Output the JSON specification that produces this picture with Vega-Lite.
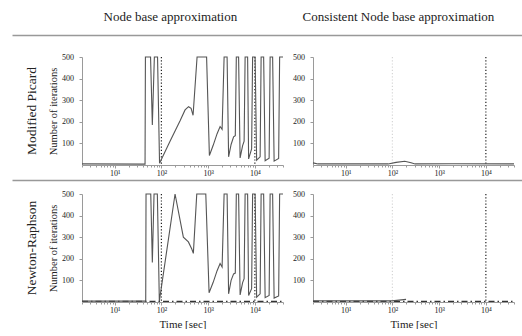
{
  "$schema": "https://vega.github.io/schema/vega-lite/v6.json",
  "padding": {"left": 12, "top": 10, "right": 0, "bottom": 0},
  "config": {
    "view": {"stroke": null},
    "font": "Liberation Serif",
    "axis": {
      "domainColor": "#9a9a9a",
      "tickColor": "#9a9a9a",
      "labelColor": "#222",
      "labelFont": "Liberation Serif",
      "labelFontSize": 8,
      "labelOverlap": false,
      "labelLimit": 0,
      "titleColor": "#222",
      "titleFont": "Liberation Serif",
      "titleFontWeight": "normal",
      "grid": false
    }
  },
  "datasets": {
    "schemes": [
      {"scheme": "Node base approximation"},
      {"scheme": "Consistent Node base approximation"}
    ],
    "methods": [
      {"method": "MP", "label": "Modified Picard"},
      {"method": "NR", "label": "Newton-Raphson"}
    ],
    "markers": [
      {"scheme": "NB", "t": 100, "level": "strong"},
      {"scheme": "NB", "t": 10000, "level": "strong"},
      {"scheme": "CNB", "t": 100, "level": "weak"},
      {"scheme": "CNB", "t": 10000, "level": "strong"}
    ],
    "curves": [
      {"method": "MP", "scheme": "NB", "run": "main", "t": 2, "n": 5},
      {"method": "MP", "scheme": "NB", "run": "main", "t": 44.7, "n": 4},
      {"method": "MP", "scheme": "NB", "run": "main", "t": 45.5, "n": 500},
      {"method": "MP", "scheme": "NB", "run": "main", "t": 58.6, "n": 500},
      {"method": "MP", "scheme": "NB", "run": "main", "t": 64, "n": 185},
      {"method": "MP", "scheme": "NB", "run": "main", "t": 70.7, "n": 500},
      {"method": "MP", "scheme": "NB", "run": "main", "t": 82.7, "n": 500},
      {"method": "MP", "scheme": "NB", "run": "main", "t": 91.3, "n": 8},
      {"method": "MP", "scheme": "NB", "run": "main", "t": 153, "n": 110},
      {"method": "MP", "scheme": "NB", "run": "main", "t": 251, "n": 205},
      {"method": "MP", "scheme": "NB", "run": "main", "t": 321, "n": 255},
      {"method": "MP", "scheme": "NB", "run": "main", "t": 381, "n": 270},
      {"method": "MP", "scheme": "NB", "run": "main", "t": 432, "n": 262},
      {"method": "MP", "scheme": "NB", "run": "main", "t": 476, "n": 230},
      {"method": "MP", "scheme": "NB", "run": "main", "t": 580, "n": 500},
      {"method": "MP", "scheme": "NB", "run": "main", "t": 927, "n": 500},
      {"method": "MP", "scheme": "NB", "run": "main", "t": 1064, "n": 44},
      {"method": "MP", "scheme": "NB", "run": "main", "t": 1277, "n": 90},
      {"method": "MP", "scheme": "NB", "run": "main", "t": 1556, "n": 145},
      {"method": "MP", "scheme": "NB", "run": "main", "t": 1803, "n": 178},
      {"method": "MP", "scheme": "NB", "run": "main", "t": 1990, "n": 165},
      {"method": "MP", "scheme": "NB", "run": "main", "t": 2197, "n": 500},
      {"method": "MP", "scheme": "NB", "run": "main", "t": 2546, "n": 500},
      {"method": "MP", "scheme": "NB", "run": "main", "t": 2742, "n": 38},
      {"method": "MP", "scheme": "NB", "run": "main", "t": 3102, "n": 95},
      {"method": "MP", "scheme": "NB", "run": "main", "t": 3508, "n": 130},
      {"method": "MP", "scheme": "NB", "run": "main", "t": 3814, "n": 136},
      {"method": "MP", "scheme": "NB", "run": "main", "t": 4009, "n": 500},
      {"method": "MP", "scheme": "NB", "run": "main", "t": 4487, "n": 500},
      {"method": "MP", "scheme": "NB", "run": "main", "t": 4833, "n": 33},
      {"method": "MP", "scheme": "NB", "run": "main", "t": 5470, "n": 90},
      {"method": "MP", "scheme": "NB", "run": "main", "t": 5890, "n": 110},
      {"method": "MP", "scheme": "NB", "run": "main", "t": 6186, "n": 500},
      {"method": "MP", "scheme": "NB", "run": "main", "t": 6998, "n": 500},
      {"method": "MP", "scheme": "NB", "run": "main", "t": 7349, "n": 28},
      {"method": "MP", "scheme": "NB", "run": "main", "t": 8524, "n": 75},
      {"method": "MP", "scheme": "NB", "run": "main", "t": 8947, "n": 500},
      {"method": "MP", "scheme": "NB", "run": "main", "t": 10125, "n": 500},
      {"method": "MP", "scheme": "NB", "run": "main", "t": 10910, "n": 22},
      {"method": "MP", "scheme": "NB", "run": "main", "t": 12960, "n": 38},
      {"method": "MP", "scheme": "NB", "run": "main", "t": 13610, "n": 500},
      {"method": "MP", "scheme": "NB", "run": "main", "t": 15410, "n": 500},
      {"method": "MP", "scheme": "NB", "run": "main", "t": 16590, "n": 20},
      {"method": "MP", "scheme": "NB", "run": "main", "t": 20190, "n": 32},
      {"method": "MP", "scheme": "NB", "run": "main", "t": 21220, "n": 500},
      {"method": "MP", "scheme": "NB", "run": "main", "t": 23990, "n": 500},
      {"method": "MP", "scheme": "NB", "run": "main", "t": 25830, "n": 18},
      {"method": "MP", "scheme": "NB", "run": "main", "t": 32270, "n": 30},
      {"method": "MP", "scheme": "NB", "run": "main", "t": 33880, "n": 500},
      {"method": "MP", "scheme": "NB", "run": "main", "t": 40000, "n": 500},

      {"method": "MP", "scheme": "CNB", "run": "main", "t": 2, "n": 10},
      {"method": "MP", "scheme": "CNB", "run": "main", "t": 2.56, "n": 5},
      {"method": "MP", "scheme": "CNB", "run": "main", "t": 81, "n": 5},
      {"method": "MP", "scheme": "CNB", "run": "main", "t": 120, "n": 12},
      {"method": "MP", "scheme": "CNB", "run": "main", "t": 184, "n": 17},
      {"method": "MP", "scheme": "CNB", "run": "main", "t": 251, "n": 10},
      {"method": "MP", "scheme": "CNB", "run": "main", "t": 306, "n": 5},
      {"method": "MP", "scheme": "CNB", "run": "main", "t": 1990, "n": 6},
      {"method": "MP", "scheme": "CNB", "run": "main", "t": 40000, "n": 5},

      {"method": "NR", "scheme": "NB", "run": "main", "t": 2, "n": 4},
      {"method": "NR", "scheme": "NB", "run": "main", "t": 46.2, "n": 4},
      {"method": "NR", "scheme": "NB", "run": "main", "t": 46.9, "n": 500},
      {"method": "NR", "scheme": "NB", "run": "main", "t": 59.2, "n": 500},
      {"method": "NR", "scheme": "NB", "run": "main", "t": 64, "n": 183},
      {"method": "NR", "scheme": "NB", "run": "main", "t": 69.6, "n": 500},
      {"method": "NR", "scheme": "NB", "run": "main", "t": 81.9, "n": 500},
      {"method": "NR", "scheme": "NB", "run": "main", "t": 90.4, "n": 4},
      {"method": "NR", "scheme": "NB", "run": "main", "t": 196, "n": 500},
      {"method": "NR", "scheme": "NB", "run": "main", "t": 295, "n": 300},
      {"method": "NR", "scheme": "NB", "run": "main", "t": 378, "n": 278},
      {"method": "NR", "scheme": "NB", "run": "main", "t": 447, "n": 245},
      {"method": "NR", "scheme": "NB", "run": "main", "t": 483, "n": 225},
      {"method": "NR", "scheme": "NB", "run": "main", "t": 571, "n": 500},
      {"method": "NR", "scheme": "NB", "run": "main", "t": 891, "n": 500},
      {"method": "NR", "scheme": "NB", "run": "main", "t": 1048, "n": 43},
      {"method": "NR", "scheme": "NB", "run": "main", "t": 1277, "n": 90},
      {"method": "NR", "scheme": "NB", "run": "main", "t": 1556, "n": 145},
      {"method": "NR", "scheme": "NB", "run": "main", "t": 1803, "n": 178},
      {"method": "NR", "scheme": "NB", "run": "main", "t": 1990, "n": 162},
      {"method": "NR", "scheme": "NB", "run": "main", "t": 2197, "n": 500},
      {"method": "NR", "scheme": "NB", "run": "main", "t": 2546, "n": 500},
      {"method": "NR", "scheme": "NB", "run": "main", "t": 2742, "n": 38},
      {"method": "NR", "scheme": "NB", "run": "main", "t": 3102, "n": 100},
      {"method": "NR", "scheme": "NB", "run": "main", "t": 3508, "n": 130},
      {"method": "NR", "scheme": "NB", "run": "main", "t": 3814, "n": 134},
      {"method": "NR", "scheme": "NB", "run": "main", "t": 4009, "n": 500},
      {"method": "NR", "scheme": "NB", "run": "main", "t": 4487, "n": 500},
      {"method": "NR", "scheme": "NB", "run": "main", "t": 4833, "n": 33},
      {"method": "NR", "scheme": "NB", "run": "main", "t": 5470, "n": 90},
      {"method": "NR", "scheme": "NB", "run": "main", "t": 5890, "n": 108},
      {"method": "NR", "scheme": "NB", "run": "main", "t": 6186, "n": 500},
      {"method": "NR", "scheme": "NB", "run": "main", "t": 6998, "n": 500},
      {"method": "NR", "scheme": "NB", "run": "main", "t": 7349, "n": 30},
      {"method": "NR", "scheme": "NB", "run": "main", "t": 8524, "n": 62},
      {"method": "NR", "scheme": "NB", "run": "main", "t": 8947, "n": 500},
      {"method": "NR", "scheme": "NB", "run": "main", "t": 10125, "n": 500},
      {"method": "NR", "scheme": "NB", "run": "main", "t": 10910, "n": 22},
      {"method": "NR", "scheme": "NB", "run": "main", "t": 12960, "n": 38},
      {"method": "NR", "scheme": "NB", "run": "main", "t": 13610, "n": 500},
      {"method": "NR", "scheme": "NB", "run": "main", "t": 15410, "n": 500},
      {"method": "NR", "scheme": "NB", "run": "main", "t": 16590, "n": 20},
      {"method": "NR", "scheme": "NB", "run": "main", "t": 20190, "n": 30},
      {"method": "NR", "scheme": "NB", "run": "main", "t": 21220, "n": 500},
      {"method": "NR", "scheme": "NB", "run": "main", "t": 23990, "n": 500},
      {"method": "NR", "scheme": "NB", "run": "main", "t": 25830, "n": 18},
      {"method": "NR", "scheme": "NB", "run": "main", "t": 32270, "n": 28},
      {"method": "NR", "scheme": "NB", "run": "main", "t": 33880, "n": 500},
      {"method": "NR", "scheme": "NB", "run": "main", "t": 40000, "n": 500},
      {"method": "NR", "scheme": "NB", "run": "base", "t": 2, "n": 3},
      {"method": "NR", "scheme": "NB", "run": "base", "t": 40000, "n": 3},

      {"method": "NR", "scheme": "CNB", "run": "main", "t": 2, "n": 5},
      {"method": "NR", "scheme": "CNB", "run": "main", "t": 98, "n": 5},
      {"method": "NR", "scheme": "CNB", "run": "main", "t": 196, "n": 12},
      {"method": "NR", "scheme": "CNB", "run": "base", "t": 2, "n": 3},
      {"method": "NR", "scheme": "CNB", "run": "base", "t": 40000, "n": 3}
    ]
  },
  "spacing": 3,
  "vconcat": [
    {
      "width": 510,
      "height": 15,
      "data": {"name": "schemes"},
      "mark": {"type": "point", "opacity": 0},
      "encoding": {
        "x": {
          "field": "scheme", "type": "nominal", "sort": null,
          "scale": {"type": "point", "padding": 0.618, "align": 0.56},
          "axis": {"orient": "top", "title": null, "ticks": false, "domainColor": "#999", "domainWidth": 1.5,
                   "labelFontSize": 13, "labelPadding": 12, "labelAngle": 0, "labelColor": "#222", "labelLimit": 0}
        }
      }
    },
    {
      "spacing": 6,
      "hconcat": [
        {
          "width": 30, "height": 108,
          "data": {"name": "methods"},
          "transform": [{"filter": "datum.method == 'MP'"}],
          "mark": {"type": "text", "angle": 270, "fontSize": 13.5, "dy": 5, "color": "#222", "font": "Liberation Serif"},
          "encoding": {"text": {"field": "label"}}
        },
        {
          "width": 201, "height": 108,
          "encoding": {
            "x": {"field": "t", "type": "quantitative", "scale": {"type": "log", "domain": [2, 40000], "nice": false},
                  "axis": {"title": null, "values": [2,3,4,5,6,7,8,9,10,20,30,40,50,60,70,80,90,100,200,300,400,500,600,700,800,900,1000,2000,3000,4000,5000,6000,7000,8000,9000,10000,20000,30000,40000],
                           "labelExpr": "datum.value == 10 ? '10¹' : datum.value == 100 ? '10²' : datum.value == 1000 ? '10³' : datum.value == 10000 ? '10⁴' : ''",
                           "tickSize": {"condition": {"test": "indexof([10,100,1000,10000], datum.value) >= 0", "value": 3}, "value": 2},
                           "labelPadding": 1, "labelFlush": false, "labelOverlap": false}}
          },
          "layer": [
            {
              "data": {"name": "markers"},
              "transform": [{"filter": "datum.scheme == 'NB'"}],
              "mark": {"type": "rule", "strokeDash": [1.2, 2], "strokeWidth": 1.2},
              "encoding": {"color": {"field": "level", "type": "nominal", "scale": {"domain": ["strong", "weak"], "range": ["#222", "#d6d6d6"]}, "legend": null}}
            },
            {
              "data": {"name": "curves"},
              "transform": [{"filter": "datum.method == 'MP' && datum.scheme == 'NB' && datum.run == 'main'"}],
              "mark": {"type": "line", "color": "#555", "strokeWidth": 1.1},
              "encoding": {"y": {"field": "n", "type": "quantitative", "scale": {"domain": [0, 500], "nice": false},
                                 "axis": {"values": [100,200,300,400,500], "labelOverlap": false, "title": "Number of iterations", "titleFontSize": 10.5, "titlePadding": 3, "tickSize": 3, "labelPadding": 5.5}}}
            }
          ]
        },
        {
          "width": 201, "height": 108,
          "encoding": {
            "x": {"field": "t", "type": "quantitative", "scale": {"type": "log", "domain": [2, 40000], "nice": false},
                  "axis": {"title": null, "values": [2,3,4,5,6,7,8,9,10,20,30,40,50,60,70,80,90,100,200,300,400,500,600,700,800,900,1000,2000,3000,4000,5000,6000,7000,8000,9000,10000,20000,30000,40000],
                           "labelExpr": "datum.value == 10 ? '10¹' : datum.value == 100 ? '10²' : datum.value == 1000 ? '10³' : datum.value == 10000 ? '10⁴' : ''",
                           "tickSize": {"condition": {"test": "indexof([10,100,1000,10000], datum.value) >= 0", "value": 3}, "value": 2},
                           "labelPadding": 1, "labelFlush": false, "labelOverlap": false}}
          },
          "layer": [
            {
              "data": {"name": "markers"},
              "transform": [{"filter": "datum.scheme == 'CNB'"}],
              "mark": {"type": "rule", "strokeDash": [1.2, 2], "strokeWidth": 1.2},
              "encoding": {"color": {"field": "level", "type": "nominal", "scale": {"domain": ["strong", "weak"], "range": ["#222", "#d6d6d6"]}, "legend": null}}
            },
            {
              "data": {"name": "curves"},
              "transform": [{"filter": "datum.method == 'MP' && datum.scheme == 'CNB' && datum.run == 'main'"}],
              "mark": {"type": "line", "color": "#555", "strokeWidth": 1.1},
              "encoding": {"y": {"field": "n", "type": "quantitative", "scale": {"domain": [0, 500], "nice": false},
                                 "axis": {"values": [100,200,300,400,500], "labelOverlap": false, "title": null, "tickSize": 3, "labelPadding": 5.5}}}
            }
          ]
        }
      ]
    },
    {
      "width": 510,
      "height": 7,
      "data": {"name": "schemes"},
      "mark": {"type": "point", "opacity": 0},
      "encoding": {
        "x": {
          "field": "scheme", "type": "nominal", "sort": null,
          "scale": {"type": "point", "padding": 0.618, "align": 0.56},
          "axis": {"orient": "top", "title": null, "ticks": false, "labels": false, "domainColor": "#999", "domainWidth": 1.5}
        }
      }
    },
    {
      "spacing": 6,
      "hconcat": [
        {
          "width": 30, "height": 108,
          "data": {"name": "methods"},
          "transform": [{"filter": "datum.method == 'NR'"}],
          "mark": {"type": "text", "angle": 270, "fontSize": 13.5, "dy": 5, "color": "#222", "font": "Liberation Serif"},
          "encoding": {"text": {"field": "label"}}
        },
        {
          "width": 201, "height": 108,
          "encoding": {
            "x": {"field": "t", "type": "quantitative", "scale": {"type": "log", "domain": [2, 40000], "nice": false},
                  "axis": {"title": "Time [sec]", "titleFontSize": 11, "titlePadding": 4, "values": [2,3,4,5,6,7,8,9,10,20,30,40,50,60,70,80,90,100,200,300,400,500,600,700,800,900,1000,2000,3000,4000,5000,6000,7000,8000,9000,10000,20000,30000,40000],
                           "labelExpr": "datum.value == 10 ? '10¹' : datum.value == 100 ? '10²' : datum.value == 1000 ? '10³' : datum.value == 10000 ? '10⁴' : ''",
                           "tickSize": {"condition": {"test": "indexof([10,100,1000,10000], datum.value) >= 0", "value": 3}, "value": 2},
                           "labelPadding": 1, "labelFlush": false, "labelOverlap": false}}
          },
          "layer": [
            {
              "data": {"name": "markers"},
              "transform": [{"filter": "datum.scheme == 'NB'"}],
              "mark": {"type": "rule", "strokeDash": [1.2, 2], "strokeWidth": 1.2},
              "encoding": {"color": {"field": "level", "type": "nominal", "scale": {"domain": ["strong", "weak"], "range": ["#222", "#d6d6d6"]}, "legend": null}}
            },
            {
              "data": {"name": "curves"},
              "transform": [{"filter": "datum.method == 'NR' && datum.scheme == 'NB' && datum.run == 'base'"}],
              "mark": {"type": "line", "color": "#333", "strokeWidth": 1.2, "strokeDash": [6, 3, 1.5, 3]},
              "encoding": {"y": {"field": "n", "type": "quantitative", "scale": {"domain": [0, 500], "nice": false},
                                 "axis": {"values": [100,200,300,400,500], "labelOverlap": false, "title": "Number of iterations", "titleFontSize": 10.5, "titlePadding": 3, "tickSize": 3, "labelPadding": 5.5}}}
            },
            {
              "data": {"name": "curves"},
              "transform": [{"filter": "datum.method == 'NR' && datum.scheme == 'NB' && datum.run == 'main'"}],
              "mark": {"type": "line", "color": "#555", "strokeWidth": 1.1},
              "encoding": {"y": {"field": "n", "type": "quantitative", "scale": {"domain": [0, 500], "nice": false},
                                 "axis": {"values": [100,200,300,400,500], "labelOverlap": false, "title": "Number of iterations", "titleFontSize": 10.5, "titlePadding": 3, "tickSize": 3, "labelPadding": 5.5}}}
            }
          ]
        },
        {
          "width": 201, "height": 108,
          "encoding": {
            "x": {"field": "t", "type": "quantitative", "scale": {"type": "log", "domain": [2, 40000], "nice": false},
                  "axis": {"title": "Time [sec]", "titleFontSize": 11, "titlePadding": 4, "values": [2,3,4,5,6,7,8,9,10,20,30,40,50,60,70,80,90,100,200,300,400,500,600,700,800,900,1000,2000,3000,4000,5000,6000,7000,8000,9000,10000,20000,30000,40000],
                           "labelExpr": "datum.value == 10 ? '10¹' : datum.value == 100 ? '10²' : datum.value == 1000 ? '10³' : datum.value == 10000 ? '10⁴' : ''",
                           "tickSize": {"condition": {"test": "indexof([10,100,1000,10000], datum.value) >= 0", "value": 3}, "value": 2},
                           "labelPadding": 1, "labelFlush": false, "labelOverlap": false}}
          },
          "layer": [
            {
              "data": {"name": "markers"},
              "transform": [{"filter": "datum.scheme == 'CNB'"}],
              "mark": {"type": "rule", "strokeDash": [1.2, 2], "strokeWidth": 1.2},
              "encoding": {"color": {"field": "level", "type": "nominal", "scale": {"domain": ["strong", "weak"], "range": ["#222", "#d6d6d6"]}, "legend": null}}
            },
            {
              "data": {"name": "curves"},
              "transform": [{"filter": "datum.method == 'NR' && datum.scheme == 'CNB' && datum.run == 'base'"}],
              "mark": {"type": "line", "color": "#333", "strokeWidth": 1.2, "strokeDash": [6, 3, 1.5, 3]},
              "encoding": {"y": {"field": "n", "type": "quantitative", "scale": {"domain": [0, 500], "nice": false},
                                 "axis": {"values": [100,200,300,400,500], "labelOverlap": false, "title": null, "tickSize": 3, "labelPadding": 5.5}}}
            },
            {
              "data": {"name": "curves"},
              "transform": [{"filter": "datum.method == 'NR' && datum.scheme == 'CNB' && datum.run == 'main'"}],
              "mark": {"type": "line", "color": "#555", "strokeWidth": 1.1},
              "encoding": {"y": {"field": "n", "type": "quantitative", "scale": {"domain": [0, 500], "nice": false},
                                 "axis": {"values": [100,200,300,400,500], "labelOverlap": false, "title": null, "tickSize": 3, "labelPadding": 5.5}}}
            }
          ]
        }
      ]
    }
  ]
}
